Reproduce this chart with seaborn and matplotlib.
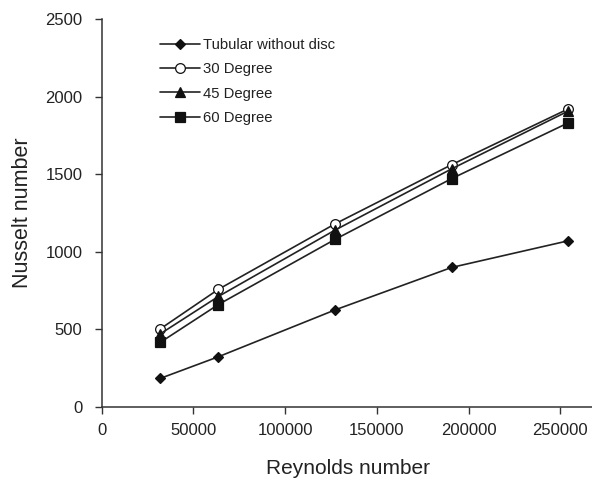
import matplotlib
matplotlib.use("Agg")
import matplotlib.pyplot as plt
import seaborn as sns
import pandas as pd

# Reynolds numbers of the test runs
reynolds = [31800, 63600, 127200, 190800, 254400]

# Nusselt numbers for each configuration
nu_plain = [183, 323, 625, 899, 1071]
nu_30deg = [502, 758, 1180, 1562, 1922]
nu_45deg = [470, 712, 1140, 1535, 1908]
nu_60deg = [415, 660, 1080, 1472, 1832]

series_names = ["Tubular without disc", "30 Degree", "45 Degree", "60 Degree"]
series_values = [nu_plain, nu_30deg, nu_45deg, nu_60deg]

x_ticks = [0, 50000, 100000, 150000, 200000, 250000]
y_ticks = [0, 500, 1000, 1500, 2000, 2500]

sns.set_theme(style="ticks")
plt.rcParams["font.family"] = ["Liberation Sans", "DejaVu Sans"]

frames = []
for name, vals in zip(series_names, series_values):
    frames.append(pd.DataFrame({"Re": reynolds, "Nu": vals, "series": name}))
df = pd.concat(frames, ignore_index=True)

marker_styles = {
    "Tubular without disc": dict(marker="D", markersize=5.5, markerfacecolor="#111111"),
    "30 Degree": dict(marker="o", markersize=7, markerfacecolor="white"),
    "45 Degree": dict(marker="^", markersize=6.5, markerfacecolor="#111111"),
    "60 Degree": dict(marker="s", markersize=6.5, markerfacecolor="#111111"),
}

fig = plt.figure(figsize=(5.92, 4.82), dpi=100)
ax = fig.add_axes([0.172, 0.156, 0.83, 0.804])

for name in series_names:
    sub = df[df["series"] == name]
    sns.lineplot(data=sub, x="Re", y="Nu", ax=ax, color="#222222", linewidth=1.2,
                 markeredgecolor="#111111", markeredgewidth=0.9, label=name,
                 **marker_styles[name])

ax.set_xlim(0, 268000)
ax.set_ylim(0, 2500)
ax.set_xticks(x_ticks)
ax.set_yticks(y_ticks)
ax.set_xticklabels([str(t) for t in x_ticks])
ax.set_yticklabels([str(t) for t in y_ticks])
ax.tick_params(axis="both", direction="out", length=5, width=1, color="#333333",
               labelsize=12, labelcolor="#222222")
ax.tick_params(axis="y", pad=9)
ax.tick_params(axis="x", pad=7)
ax.set_xlabel("Reynolds number", fontsize=15, color="#222222", labelpad=15)
ax.set_ylabel("Nusselt number", fontsize=15.5, color="#222222", labelpad=9)

sns.despine(ax=ax, top=True, right=True)
for sp in ("left", "bottom"):
    ax.spines[sp].set_color("#333333")
    ax.spines[sp].set_linewidth(1.1)

leg = ax.legend(loc="upper left", bbox_to_anchor=(0.1, 0.975), frameon=False,
                fontsize=10.7, handlelength=2.7, handletextpad=0.2,
                labelspacing=0.7, borderaxespad=0.2)
for t in leg.get_texts():
    t.set_color("#222222")

fig.savefig("out.png", dpi=100)
